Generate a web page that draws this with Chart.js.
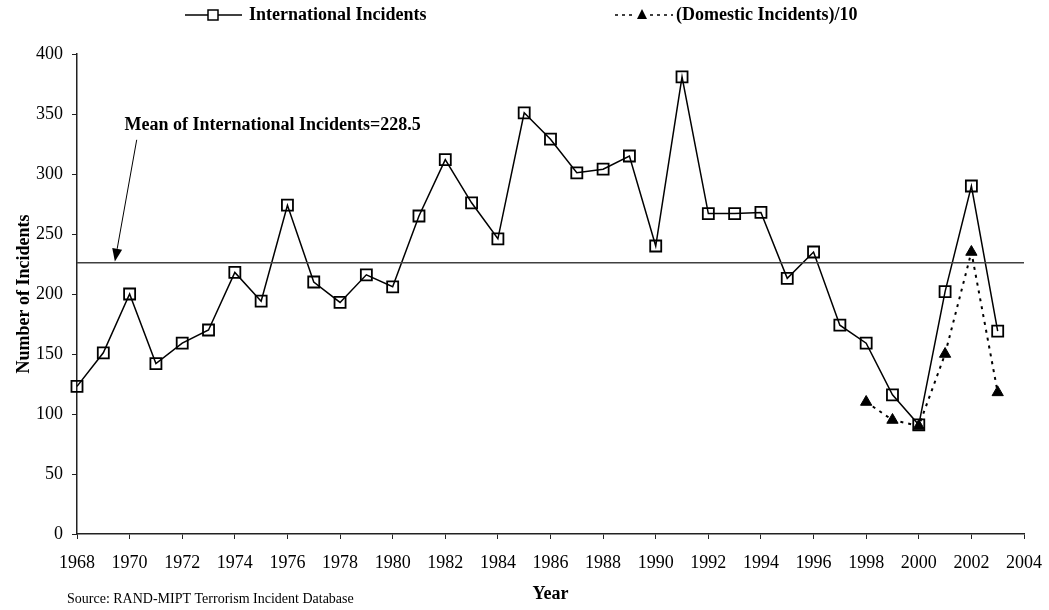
<!DOCTYPE html>
<html>
<head>
<meta charset="utf-8">
<script src="https://cdn.jsdelivr.net/npm/chart.js@4"></script>
<style>
  html, body { margin: 0; padding: 0; background: #fff; }
  #wrap { width: 1049px; height: 610px; }
</style>
</head>
<body>
<div id="wrap"><canvas id="incidentsChart" width="1049" height="610"></canvas></div>
<script>
// data
const years = [1968, 1969, 1970, 1971, 1972, 1973, 1974, 1975, 1976, 1977, 1978, 1979,
  1980, 1981, 1982, 1983, 1984, 1985, 1986, 1987, 1988, 1989, 1990, 1991,
  1992, 1993, 1994, 1995, 1996, 1997, 1998, 1999, 2000, 2001, 2002, 2003];
const internationalIncidents = [123, 151, 200, 142, 159, 170, 218, 194, 274, 210, 193, 216,
  206, 265, 312, 276, 246, 351, 329, 301, 304, 315, 240, 381,
  267, 267, 268, 213, 235, 174, 159, 116, 91, 202, 290, 169];
const domesticYears = [1998, 1999, 2000, 2001, 2002, 2003];
const domesticIncidentsDiv10 = [110, 95, 90, 150, 235, 118];
const meanLineValue = 226; // line as drawn in the original
const meanLabel = "Mean of International Incidents=228.5";

const serif = "'Liberation Serif', 'Times New Roman', serif";

// legend + arrow note + source line, drawn on the canvas
const extrasPlugin = {
  id: "extras",
  afterDraw(chart) {
    const ctx = chart.ctx;
    const xs = chart.scales.x, ys = chart.scales.y;
    ctx.save();

    // legend
    ctx.strokeStyle = "#000";
    ctx.fillStyle = "#000";
    ctx.lineWidth = 1.5;
    ctx.beginPath();
    ctx.moveTo(185, 15); ctx.lineTo(242, 15);
    ctx.stroke();
    ctx.fillStyle = "#fff";
    ctx.fillRect(208, 10, 10, 10);
    ctx.strokeRect(208, 10, 10, 10);

    ctx.setLineDash([3, 4]);
    ctx.beginPath();
    ctx.moveTo(615, 15); ctx.lineTo(673, 15);
    ctx.stroke();
    ctx.setLineDash([]);
    ctx.fillStyle = "#fff";
    ctx.fillRect(635, 7, 14, 14);
    ctx.fillStyle = "#000";
    ctx.beginPath();
    ctx.moveTo(642, 9); ctx.lineTo(647, 19); ctx.lineTo(637, 19);
    ctx.closePath();
    ctx.fill();

    ctx.font = "bold 18px " + serif;
    ctx.textBaseline = "middle";
    ctx.textAlign = "left";
    ctx.fillText("International Incidents", 249, 15);
    ctx.fillText("(Domestic Incidents)/10", 676, 15);

    // mean note with arrow
    ctx.fillText(meanLabel, xs.getPixelForValue(1969.81), ys.getPixelForValue(340.8));
    const x0 = xs.getPixelForValue(1970.27), y0 = ys.getPixelForValue(328.5);
    const x1 = xs.getPixelForValue(1969.44), y1 = ys.getPixelForValue(meanLineValue + 1);
    const ang = Math.atan2(y1 - y0, x1 - x0);
    const head = 13, half = 5;
    ctx.lineWidth = 1;
    ctx.beginPath();
    ctx.moveTo(x0, y0);
    ctx.lineTo(x1 - Math.cos(ang) * head, y1 - Math.sin(ang) * head);
    ctx.stroke();
    ctx.beginPath();
    ctx.moveTo(x1, y1);
    ctx.lineTo(x1 - head * Math.cos(ang) + half * Math.sin(ang), y1 - head * Math.sin(ang) - half * Math.cos(ang));
    ctx.lineTo(x1 - head * Math.cos(ang) - half * Math.sin(ang), y1 - head * Math.sin(ang) + half * Math.cos(ang));
    ctx.closePath();
    ctx.fill();

    // source
    ctx.font = "14px " + serif;
    ctx.fillText("Source: RAND-MIPT Terrorism Incident Database", 67, 599);
    ctx.restore();
  }
};

new Chart(document.getElementById("incidentsChart").getContext("2d"), {
  type: "line",
  data: {
    datasets: [
      {
        label: "Mean",
        data: [{ x: 1968, y: meanLineValue }, { x: 2004, y: meanLineValue }],
        borderColor: "#404040",
        borderWidth: 1.5,
        pointRadius: 0,
      },
      {
        label: "(Domestic Incidents)/10",
        data: domesticYears.map((yr, i) => ({ x: yr, y: domesticIncidentsDiv10[i] })),
        borderColor: "#000",
        borderWidth: 2,
        borderDash: [3, 5],
        pointStyle: "triangle",
        pointRadius: 6.5,
        pointBackgroundColor: "#000",
        pointBorderColor: "#000",
        pointBorderWidth: 1,
        clip: false,
      },
      {
        label: "International Incidents",
        data: years.map((yr, i) => ({ x: yr, y: internationalIncidents[i] })),
        borderColor: "#000",
        borderWidth: 1.5,
        pointStyle: "rect",
        pointRadius: 7.8,
        pointBackgroundColor: "rgba(255,255,255,0)",
        pointBorderColor: "#000",
        pointBorderWidth: 1.8,
        clip: false,
      },
    ],
  },
  options: {
    responsive: false,
    animation: false,
    layout: { autoPadding: false, padding: { top: 54, right: 25, left: 0, bottom: 0 } },
    plugins: {
      legend: { display: false },
      tooltip: { enabled: false },
    },
    scales: {
      x: {
        type: "linear",
        min: 1968,
        max: 2004,
        afterFit: (scale) => {
          scale.height = 76;
          scale.paddingLeft = 0;
          scale.paddingRight = 0;
        },
        ticks: {
          stepSize: 2,
          padding: 13,
          color: "#000",
          font: { family: serif, size: 18 },
          callback: (v) => String(v),
          maxRotation: 0,
        },
        grid: { drawOnChartArea: false, drawTicks: true, tickLength: 5, color: "#222" },
        border: { color: "#222", width: 1.5 },
        title: {
          display: true,
          text: "Year",
          color: "#000",
          font: { family: serif, size: 18, weight: "bold" },
          padding: { top: 0, bottom: 5 },
        },
      },
      y: {
        min: 0,
        max: 400,
        afterFit: (scale) => { scale.width = 77; },
        ticks: {
          stepSize: 50,
          padding: 9,
          color: "#000",
          font: { family: serif, size: 18 },
        },
        grid: { drawOnChartArea: false, drawTicks: true, tickLength: 5, color: "#222" },
        border: { color: "#222", width: 1.5 },
        title: {
          display: true,
          text: "Number of Incidents",
          color: "#000",
          font: { family: serif, size: 18, weight: "bold" },
          padding: { top: 14, bottom: 0 },
        },
      },
    },
  },
  plugins: [extrasPlugin],
});
</script>
</body>
</html>
